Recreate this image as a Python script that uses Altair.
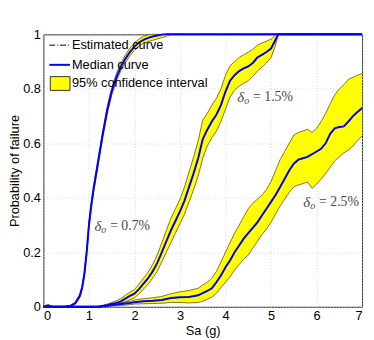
import altair as alt
import pandas as pd

# ---------------- data ----------------
# delta_o = 0.7 %
sa_a  = [0.0, 0.1, 0.2, 0.3, 0.4, 0.5, 0.6, 0.7, 0.8, 0.85, 0.9, 0.95, 1.0, 1.05, 1.1, 1.15, 1.2, 1.3, 1.4, 1.5,
         1.6, 1.7, 1.8, 1.9, 2.0, 2.1, 2.2, 2.3, 2.4, 2.5, 2.6, 2.7, 2.8, 3.0, 4.0, 5.0, 6.0, 7.0]
med_a = [0.0, 0.004, 0.0, 0.0, 0.0, 0.001, 0.004, 0.013, 0.04, 0.07, 0.12, 0.2, 0.30, 0.37, 0.43, 0.48, 0.53, 0.63, 0.72, 0.79,
         0.84, 0.88, 0.91, 0.935, 0.955, 0.97, 0.98, 0.987, 0.992, 0.996, 0.999, 1.0, 1.0, 1.0, 1.0, 1.0, 1.0, 1.0]
lo_a  = [0.0, 0.0, 0.0, 0.0, 0.0, 0.0, 0.002, 0.009, 0.033, 0.062, 0.11, 0.188, 0.287, 0.357, 0.417, 0.467, 0.517, 0.617, 0.706, 0.776,
         0.826, 0.866, 0.896, 0.921, 0.941, 0.957, 0.967, 0.974, 0.978, 0.983, 0.988, 0.993, 1.0, 1.0, 1.0, 1.0, 1.0, 1.0]
hi_a  = [0.0, 0.01, 0.0, 0.0, 0.0, 0.002, 0.006, 0.017, 0.047, 0.078, 0.13, 0.212, 0.313, 0.383, 0.443, 0.493, 0.543, 0.643, 0.734, 0.804,
         0.854, 0.894, 0.924, 0.949, 0.969, 0.983, 0.993, 0.998, 1.0, 1.0, 1.0, 1.0, 1.0, 1.0, 1.0, 1.0, 1.0, 1.0]

# delta_o = 1.5 %
sa_b  = [0.0, 1.2, 1.3, 1.4, 1.5, 1.6, 1.7, 1.8, 1.9, 2.0, 2.1, 2.2, 2.3, 2.4, 2.5, 2.6, 2.7, 2.8, 2.9, 3.0,
         3.1, 3.2, 3.3, 3.4, 3.5, 3.6, 3.7, 3.8, 3.9, 4.0, 4.1, 4.2, 4.3, 4.4, 4.5, 4.6, 4.7, 4.8, 4.9, 5.0,
         5.1, 5.16, 6.0, 7.0]
med_b = [0.0, 0.0, 0.003, 0.006, 0.01, 0.014, 0.02, 0.03, 0.04, 0.048, 0.065, 0.085, 0.105, 0.13, 0.16, 0.2, 0.24, 0.28, 0.315, 0.35,
         0.39, 0.44, 0.49, 0.545, 0.615, 0.65, 0.68, 0.705, 0.74, 0.79, 0.83, 0.85, 0.865, 0.875, 0.882, 0.895, 0.915, 0.925, 0.935, 0.948,
         0.98, 1.0, 1.0, 1.0]
lo_b  = [0.0, 0.0, 0.001, 0.002, 0.004, 0.006, 0.01, 0.018, 0.026, 0.033, 0.047, 0.065, 0.083, 0.105, 0.13, 0.165, 0.2, 0.235, 0.27, 0.305,
         0.34, 0.385, 0.43, 0.48, 0.545, 0.59, 0.62, 0.645, 0.68, 0.725, 0.77, 0.795, 0.81, 0.82, 0.83, 0.845, 0.865, 0.88, 0.895, 0.915,
         0.96, 1.0, 1.0, 1.0]
hi_b  = [0.0, 0.0, 0.005, 0.01, 0.016, 0.022, 0.03, 0.042, 0.054, 0.063, 0.083, 0.105, 0.127, 0.155, 0.19, 0.235, 0.28, 0.325, 0.36, 0.395,
         0.44, 0.495, 0.55, 0.61, 0.685, 0.71, 0.74, 0.765, 0.8, 0.85, 0.885, 0.9, 0.915, 0.925, 0.935, 0.945, 0.96, 0.968, 0.975, 0.982,
         0.998, 1.0, 1.0, 1.0]

# delta_o = 2.5 %
sa_c  = [0.0, 1.2, 1.3, 1.5, 1.7, 1.9, 2.0, 2.2, 2.4, 2.6, 2.8, 3.0, 3.2, 3.4, 3.5, 3.6, 3.7, 3.8, 3.9, 4.0,
         4.1, 4.2, 4.3, 4.4, 4.5, 4.6, 4.7, 4.8, 4.9, 5.0, 5.1, 5.2, 5.3, 5.4, 5.5, 5.6, 5.7, 5.8, 5.9, 6.0,
         6.1, 6.2, 6.3, 6.4, 6.5, 6.6, 6.7, 6.8, 6.9, 7.0]
med_c = [0.0, 0.0, 0.002, 0.006, 0.01, 0.014, 0.017, 0.02, 0.022, 0.025, 0.032, 0.035, 0.036, 0.042, 0.05, 0.058, 0.068, 0.09, 0.115, 0.145,
         0.17, 0.2, 0.225, 0.25, 0.27, 0.29, 0.31, 0.335, 0.36, 0.385, 0.41, 0.44, 0.47, 0.50, 0.525, 0.54, 0.545, 0.55, 0.56, 0.57,
         0.58, 0.60, 0.635, 0.655, 0.66, 0.662, 0.68, 0.70, 0.715, 0.73]
lo_c  = [0.0, 0.0, 0.001, 0.003, 0.005, 0.008, 0.01, 0.011, 0.012, 0.013, 0.016, 0.016, 0.014, 0.016, 0.02, 0.028, 0.035, 0.05, 0.07, 0.09,
         0.11, 0.135, 0.155, 0.175, 0.19, 0.215, 0.24, 0.265, 0.285, 0.31, 0.34, 0.37, 0.395, 0.42, 0.44, 0.447, 0.452, 0.458, 0.435, 0.45,
         0.468, 0.49, 0.512, 0.536, 0.55, 0.565, 0.575, 0.59, 0.61, 0.627]
hi_c  = [0.0, 0.0, 0.004, 0.01, 0.015, 0.02, 0.025, 0.03, 0.033, 0.038, 0.048, 0.055, 0.06, 0.068, 0.08, 0.09, 0.105, 0.13, 0.165, 0.2,
         0.235, 0.27, 0.30, 0.33, 0.36, 0.38, 0.395, 0.41, 0.43, 0.46, 0.50, 0.54, 0.57, 0.60, 0.63, 0.64, 0.645, 0.652, 0.64, 0.655,
         0.68, 0.71, 0.745, 0.778, 0.80, 0.815, 0.835, 0.842, 0.85, 0.856]

curve_names = ["0.7%", "1.5%", "2.5%"]

anno_sa    = [1.12, 4.26, 5.71]
anno_p     = [0.295, 0.77, 0.385]
anno_value = ["= 0.7%", "= 1.5%", "= 2.5%"]

legend_labels = ["Estimated curve", "Median curve", "95% confidence interval"]

x_ticks = [0, 1, 2, 3, 4, 5, 6, 7]
y_ticks = [0, 0.2, 0.4, 0.6, 0.8, 1]

# ---------------- build tables ----------------
rows = []
for name, sa, med, lo, hi in zip(curve_names, [sa_a, sa_b, sa_c], [med_a, med_b, med_c],
                                 [lo_a, lo_b, lo_c], [hi_a, hi_b, hi_c]):
    for s, m, l, h in zip(sa, med, lo, hi):
        rows.append({"curve": name, "Sa": s, "med": m, "lo": l, "hi": h})
df = pd.DataFrame(rows)
anno = pd.DataFrame({"Sa": anno_sa, "p": anno_p, "value": anno_value,
                     "sym": ["δ"] * 3, "sub": ["o"] * 3})

W, H = 324, 277
FONT = "Liberation Sans"
SERIF = "Liberation Serif"
ANNO_COLOR = "#474747"

xs = alt.Scale(domain=[0, 7], nice=False)
ys = alt.Scale(domain=[0, 1], nice=False)
xax = alt.Axis(values=x_ticks, title="Sa (g)", format="~g")
yax = alt.Axis(values=y_ticks, title="Probability of failure", format="~g")

base = alt.Chart(df)

band = base.mark_area(color="#ffff00", opacity=1).encode(
    x=alt.X("Sa:Q", scale=xs, axis=xax),
    y=alt.Y("lo:Q", scale=ys, axis=yax, stack=None),
    y2="hi:Q",
    detail="curve:N",
)
edge_lo = base.mark_line(color="#6b4a1e", strokeWidth=0.8).encode(
    x=alt.X("Sa:Q", scale=xs), y=alt.Y("lo:Q", scale=ys), detail="curve:N")
edge_hi = base.mark_line(color="#6b4a1e", strokeWidth=0.8).encode(
    x=alt.X("Sa:Q", scale=xs), y=alt.Y("hi:Q", scale=ys), detail="curve:N")
est = base.mark_line(color="black", strokeWidth=1, strokeDash=[6, 2, 1, 2]).encode(
    x=alt.X("Sa:Q", scale=xs), y=alt.Y("med:Q", scale=ys), detail="curve:N")
median = base.mark_line(color="#0000ff", strokeWidth=2).encode(
    x=alt.X("Sa:Q", scale=xs), y=alt.Y("med:Q", scale=ys), detail="curve:N")

anno_base = alt.Chart(anno).encode(x=alt.X("Sa:Q", scale=xs), y=alt.Y("p:Q", scale=ys))
anno_sym = anno_base.mark_text(font=SERIF, fontSize=15, fontStyle="italic", color=ANNO_COLOR,
                               align="left", baseline="middle").encode(text="sym:N")
anno_sub = anno_base.mark_text(font=SERIF, fontSize=10, fontStyle="italic", color=ANNO_COLOR,
                               align="left", baseline="middle", dx=7, dy=4).encode(text="sub:N")
anno_val = anno_base.mark_text(font=SERIF, fontSize=14, color=ANNO_COLOR,
                               align="left", baseline="middle", dx=16).encode(text="value:N")

# ---------------- legend (inside the axes, top-left) ----------------
def one(label):
    return alt.Chart(pd.DataFrame({"label": [label]}))

leg_est = one(legend_labels[0]).mark_rule(color="black", strokeWidth=1, strokeDash=[6, 2, 1, 2]).encode(
    x=alt.value(6), x2=alt.value(27), y=alt.value(11))
leg_med = one(legend_labels[1]).mark_rule(color="#0000ff", strokeWidth=2).encode(
    x=alt.value(6), x2=alt.value(27), y=alt.value(31))
leg_box = one(legend_labels[2]).mark_rect(color="#ffff00", stroke="black", strokeWidth=0.8).encode(
    x=alt.value(7), x2=alt.value(27), y=alt.value(43), y2=alt.value(57))
leg_txt = []
for lab, yy in zip(legend_labels, [11, 31, 50]):
    leg_txt.append(one(lab).mark_text(font=FONT, fontSize=13, align="left", baseline="middle", color="black").encode(
        x=alt.value(29), y=alt.value(yy), text="label:N"))

chart = alt.layer(band, edge_lo, edge_hi, est, median, anno_sym, anno_sub, anno_val,
                  leg_est, leg_med, leg_box, *leg_txt).properties(
    width=W, height=H,
    autosize=alt.AutoSizeParams(type="none"),
    padding={"left": 36, "top": 24, "right": 4, "bottom": 32},
).configure_view(
    stroke="#262626", strokeWidth=1
).configure_axis(
    labelFont=FONT, labelFontSize=13, labelColor="black",
    titleFont=FONT, titleFontSize=13, titleFontWeight="normal", titleColor="black",
    domain=False, ticks=False, labelPadding=3,
    grid=True, gridColor="#cccccc", gridDash=[1, 2], gridWidth=0.8,
).configure_axisY(titlePadding=1).configure_axisX(titlePadding=2)

chart.save("out.html", embed_options={"renderer": "svg", "actions": False})
